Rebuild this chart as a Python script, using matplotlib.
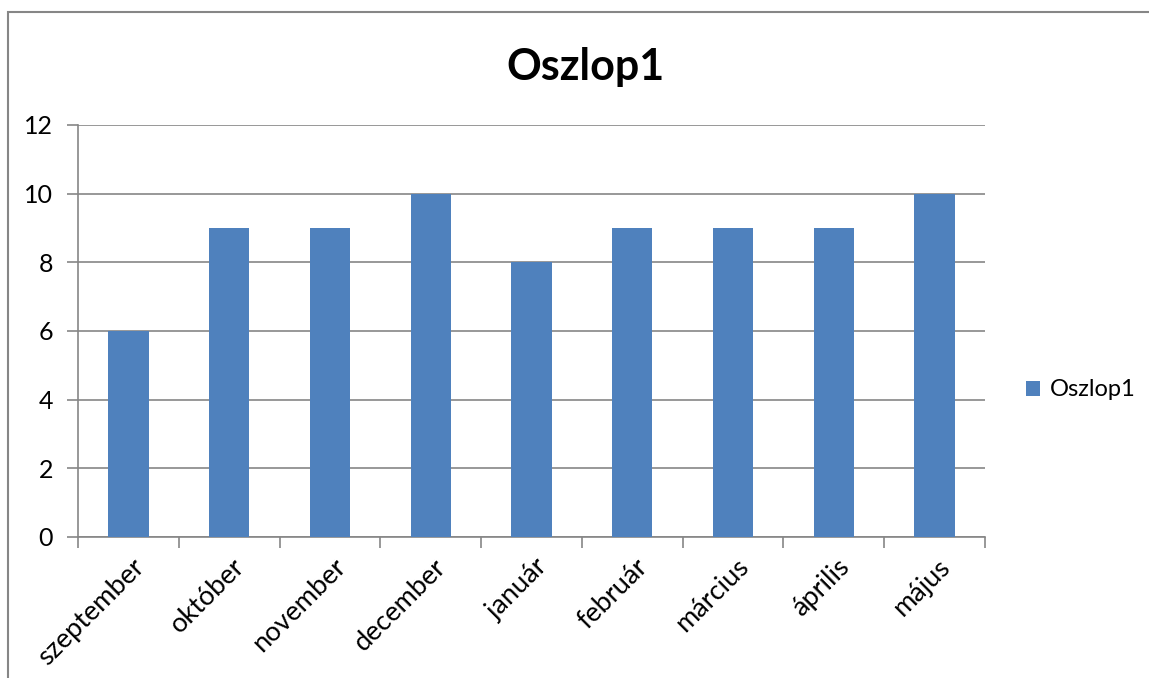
import matplotlib.pyplot as plt
from matplotlib.patches import Rectangle
import numpy as np

# --- Data ---
months = ['szeptember', 'október', 'november', 'december', 'január',
          'február', 'március', 'április', 'május']
oszlop1 = [6, 9, 9, 10, 8, 9, 9, 9, 10]
yticks = [0, 2, 4, 6, 8, 10, 12]

plt.rcParams['font.family'] = ['Lato', 'DejaVu Sans']

W, H = 1149, 678
fig = plt.figure(figsize=(W / 100, H / 100), dpi=100)

# chart border (left/top visible, rest cut off)
fig.patches.append(Rectangle((8 / W, -0.1), 1.2, (H - 12) / H + 0.1,
                             transform=fig.transFigure, fill=False,
                             edgecolor='#868686', linewidth=1.5))

ax = fig.add_axes([78 / W, (H - 537) / H, (985 - 78) / W, (537 - 125) / H])

x = np.arange(len(months))
bars = ax.bar(x, oszlop1, width=0.4, color='#4F81BD', zorder=3, label='Oszlop1')

ax.set_xlim(-0.5, len(months) - 0.5)
ax.set_ylim(0, 12)
ax.set_yticks(yticks)
ax.yaxis.grid(True, color='#868686', linewidth=1.2, zorder=0)
ax.tick_params(axis='y', length=8, color='#868686', labelsize=18, pad=10,
               direction='out', width=1.2)

# category boundaries as ticks
ax.set_xticks(np.arange(len(months) + 1) - 0.5, minor=False)
ax.set_xticklabels([])
ax.tick_params(axis='x', length=8, color='#868686', width=1.2, direction='out')
for i, m in enumerate(months):
    ax.text(i + 0.03, -0.5, m, rotation=45, ha='right', va='top',
            rotation_mode='anchor', fontsize=19.5)

for s in ['top', 'right']:
    ax.spines[s].set_visible(False)
for s in ['left', 'bottom']:
    ax.spines[s].set_color('#868686')
    ax.spines[s].set_linewidth(1.2)

fig.text(585 / W, 1 - 67 / H, 'Oszlop1', ha='center', va='center',
         fontsize=31, fontweight='bold')

fig.legend(handles=[bars], loc='center left', bbox_to_anchor=(1005 / W, 1 - 390 / H),
           frameon=False, fontsize=17, handlelength=0.6, handleheight=0.6,
           handletextpad=0.4)

fig.savefig('out.png', dpi=100)
